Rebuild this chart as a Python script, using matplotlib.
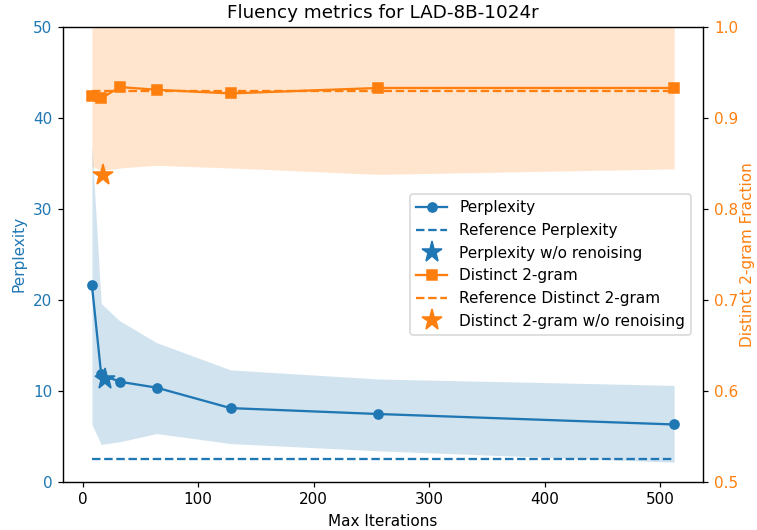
import matplotlib
matplotlib.use("Agg")
import matplotlib.pyplot as plt

iters = [8, 16, 32, 64, 128, 256, 512]
ppl = [21.6, 11.8, 11.0, 10.35, 8.1, 7.45, 6.3]
ppl_hi = [37.0, 19.6, 17.7, 15.3, 12.3, 11.3, 10.6]
ppl_lo = [6.3, 4.1, 4.4, 5.3, 4.2, 3.4, 2.15]
ppl_ref = 2.5
ppl_norenoise_x = [19]
ppl_norenoise = [11.3]

d2 = [0.924, 0.9215, 0.934, 0.931, 0.927, 0.933, 0.933]
d2_hi = [1.01, 1.01, 1.01, 1.01, 1.01, 1.01, 1.01]
d2_lo = [0.847, 0.842, 0.845, 0.848, 0.845, 0.838, 0.844]
d2_ref = 0.930
d2_norenoise_x = [18]
d2_norenoise = [0.837]

blue = "#1f77b4"
orange = "#ff7f0e"

DPI = 110
fig = plt.figure(figsize=(757 / DPI, 530 / DPI), dpi=DPI)
ax1 = fig.add_axes([0.083, 0.091, 0.846, 0.858])
ax2 = ax1.twinx()

ax1.fill_between(iters, ppl_lo, ppl_hi, color=blue, alpha=0.2, linewidth=0)
l1, = ax1.plot(iters, ppl, marker="o", color=blue, label="Perplexity")
l2, = ax1.plot([iters[0], iters[-1]], [ppl_ref, ppl_ref], "--", color=blue, label="Reference Perplexity")
l3, = ax1.plot(ppl_norenoise_x, ppl_norenoise, "*", color=blue, markersize=14, linestyle="none", label="Perplexity w/o renoising")
ax1.set_ylim(0, 50)
ax1.set_ylabel("Perplexity", color=blue)
ax1.tick_params(axis="y", labelcolor=blue)
ax1.set_xlabel("Max Iterations")

ax2.fill_between(iters, d2_lo, d2_hi, color=orange, alpha=0.2, linewidth=0)
l4, = ax2.plot(iters, d2, marker="s", color=orange, label="Distinct 2-gram")
l5, = ax2.plot([iters[0], iters[-1]], [d2_ref, d2_ref], "--", color=orange, label="Reference Distinct 2-gram")
l6, = ax2.plot(d2_norenoise_x, d2_norenoise, "*", color=orange, markersize=14, linestyle="none", label="Distinct 2-gram w/o renoising")
ax2.set_ylim(0.5, 1.0)
ax2.set_ylabel("Distinct 2-gram Fraction", color=orange, labelpad=1.5)
ax2.tick_params(axis="y", labelcolor=orange)

ax1.set_title("Fluency metrics for LAD-8B-1024r")
ax2.legend(handles=[l1, l2, l3, l4, l5, l6], loc="center right", bbox_to_anchor=(0.993, 0.478))

fig.savefig("out.png", dpi=DPI)
